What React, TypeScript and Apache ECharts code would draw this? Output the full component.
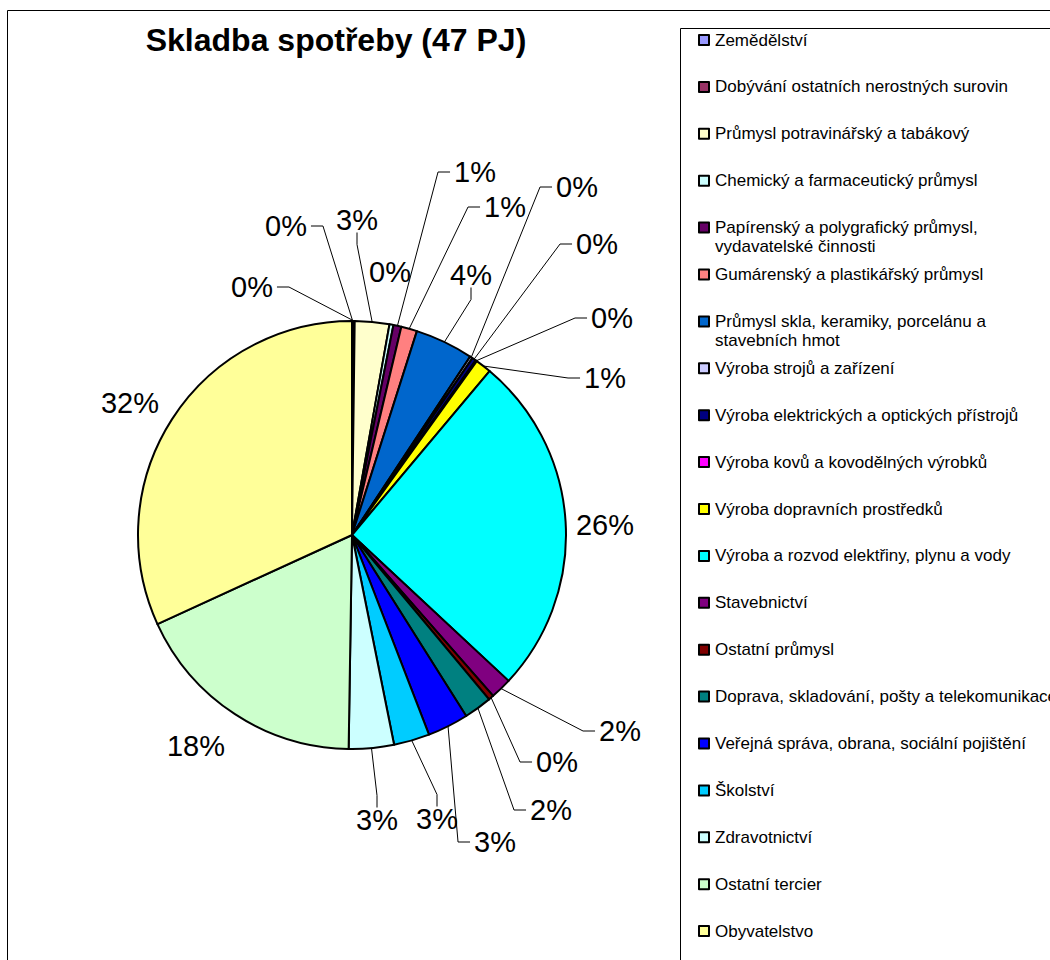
import React, { useEffect, useRef } from "react";
import * as echarts from "echarts";

const TITLE = "Skladba spotřeby (47 PJ)";

const categories: string[] = [
  "Zemědělství",
  "Dobývání ostatních nerostných surovin",
  "Průmysl potravinářský a tabákový",
  "Chemický a farmaceutický průmysl",
  "Papírenský a polygrafický průmysl,\nvydavatelské činnosti",
  "Gumárenský a plastikářský průmysl",
  "Průmysl skla, keramiky, porcelánu a\nstavebních hmot",
  "Výroba strojů a zařízení",
  "Výroba elektrických a optických přístrojů",
  "Výroba kovů a kovodělných výrobků",
  "Výroba dopravních prostředků",
  "Výroba a rozvod elektřiny, plynu a vody",
  "Stavebnictví",
  "Ostatní průmysl",
  "Doprava, skladování, pošty a telekomunikace",
  "Veřejná správa, obrana, sociální pojištění",
  "Školství",
  "Zdravotnictví",
  "Ostatní tercier",
  "Obyvatelstvo",
];

// share of consumption, %
const shares: number[] = [
  0.1, 0.1, 2.6, 0.3, 0.6, 1.2, 4.4, 0.2, 0.3, 0.1, 1.2, 25.8, 1.6, 0.4, 2.1,
  3.1, 2.7, 3.4, 17.9, 31.8,
];

const colors: string[] = [
  "#9999FF", "#993366", "#FFFFCC", "#CCFFFF", "#660066", "#FF8080", "#0066CC",
  "#CCCCFF", "#000080", "#FF00FF", "#FFFF00", "#00FFFF", "#800080", "#800000",
  "#008080", "#0000FF", "#00CCFF", "#CCFFFF", "#CCFFCC", "#FFFF99",
];

// label placement (label centre) and side where the leader line attaches
const labelPlacement: [number, number, string][] = [
  [286, 226, "r"],
  [252, 287, "r"],
  [357, 220, "b"],
  [390, 272, ""],
  [475, 172, "l"],
  [505, 207, "l"],
  [471, 275, "b"],
  [577, 187, "l"],
  [597, 244, "l"],
  [612, 318, "l"],
  [605, 378, "l"],
  [605, 525, ""],
  [620, 731, "l"],
  [557, 762, "l"],
  [551, 810, "l"],
  [495, 842, "l"],
  [437, 819, "t"],
  [377, 820, "t"],
  [196, 746, ""],
  [130, 403, ""],
];

const FONT = "'Liberation Sans', Arial, Helvetica, sans-serif";
const LEGEND_FIRST = 40;
const LEGEND_STEP = 46.9;
const LEGEND_LINE = 19;

export default function App() {
  const ref = useRef<HTMLDivElement>(null);

  useEffect(() => {
    document.body.style.margin = "0";
    if (!ref.current) return;
    const chart = echarts.init(ref.current, undefined, { renderer: "svg" });

    const data = categories.map((name, i) => ({
      name,
      value: shares[i],
      itemStyle: { color: colors[i] },
      labelLine: { show: labelPlacement[i][2] !== "" },
    }));

    const legends = categories.map((name, i) => {
      const twoLine = name.indexOf("\n") >= 0;
      const c = LEGEND_FIRST + LEGEND_STEP * i;
      return {
        orient: "vertical",
        left: 698,
        top: c - LEGEND_LINE / 2 - (twoLine ? LEGEND_LINE : 0),
        padding: 0,
        itemWidth: 10,
        itemHeight: 10,
        icon: "rect",
        selectedMode: false,
        itemStyle: { borderColor: "#000", borderWidth: 2 },
        // an empty first line keeps the icon level with the first text line
        formatter: (n: string) => (twoLine ? "\n" + n : n),
        textStyle: {
          fontFamily: FONT,
          fontSize: 17,
          color: "#000",
          lineHeight: LEGEND_LINE,
          padding: [0, 0, 0, 1],
        },
        data: [name],
      };
    });

    const option: any = {
      animation: false,
      backgroundColor: "#ffffff",
      title: {
        text: TITLE,
        left: 331,
        top: 19,
        textAlign: "center",
        textStyle: {
          fontFamily: FONT,
          fontSize: 32,
          fontWeight: "bold",
          color: "#000",
        },
      },
      graphic: [
        {
          type: "rect",
          shape: { x: 7.5, y: 10.5, width: 1100, height: 1000 },
          style: { fill: "none", stroke: "#000", lineWidth: 1 },
          silent: true,
          z: -1,
        },
        {
          type: "rect",
          shape: { x: 680.5, y: 28.5, width: 500, height: 1000 },
          style: { fill: "#fff", stroke: "#000", lineWidth: 1 },
          silent: true,
          z: -1,
        },
      ],
      legend: legends,
      series: [
        {
          type: "pie",
          center: [352, 535],
          radius: 214,
          startAngle: 90,
          clockwise: true,
          avoidLabelOverlap: false,
          itemStyle: { borderColor: "#000", borderWidth: 2 },
          emphasis: { disabled: true },
          label: {
            show: true,
            position: "outside",
            fontFamily: FONT,
            fontSize: 29,
            color: "#000",
            formatter: (p: any) => Math.round(p.percent) + "%",
          },
          labelLine: {
            show: true,
            length: 10,
            length2: 10,
            lineStyle: { color: "#000", width: 1 },
          },
          labelLayout: (params: any) => {
            const i = params.dataIndex;
            const [cx, cy, side] = labelPlacement[i];
            const w = params.labelRect.width;
            const h = params.labelRect.height;
            const res: any = {
              x: cx,
              y: cy,
              align: "center",
              verticalAlign: "middle",
            };
            if (side && params.labelLinePoints) {
              const start = params.labelLinePoints[0];
              const gap = 4;
              const seg = 12;
              let ax = cx, ay = cy, ex = cx, ey = cy;
              if (side === "l") {
                ax = cx - w / 2 - gap; ay = cy; ex = ax - seg; ey = ay;
              } else if (side === "r") {
                ax = cx + w / 2 + gap; ay = cy; ex = ax + seg; ey = ay;
              } else if (side === "t") {
                ax = cx; ay = cy - h / 2 + 2; ex = ax; ey = ay - seg;
              } else if (side === "b") {
                ax = cx; ay = cy + h / 2 - 2; ex = ax; ey = ay + seg;
              }
              res.labelLinePoints = [
                [start[0], start[1]],
                [ex, ey],
                [ax, ay],
              ];
            }
            return res;
          },
          data,
        },
      ],
    };

    chart.setOption(option);
    return () => chart.dispose();
  }, []);

  return (
    <div
      ref={ref}
      style={{ width: 1050, height: 960, overflow: "hidden" }}
    />
  );
}
